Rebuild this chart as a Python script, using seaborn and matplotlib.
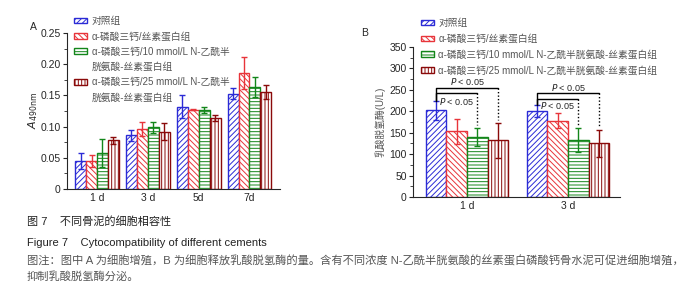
import numpy as np
import pandas as pd
import seaborn as sns
import matplotlib.pyplot as plt
from matplotlib.patches import Patch

# groups and styles
groups = ['对照组', 'α-磷酸三钙/丝素蛋白组',
          'α-磷酸三钙/10 mmol/L N-乙酰半胱氨酸-丝素蛋白组',
          'α-磷酸三钙/25 mmol/L N-乙酰半胱氨酸-丝素蛋白组']
# panel A legend wraps the long names onto a second line
legend_a = ['对照组', 'α-磷酸三钙/丝素蛋白组',
            'α-磷酸三钙/10 mmol/L N-乙酰半', '胱氨酸-丝素蛋白组',
            'α-磷酸三钙/25 mmol/L N-乙酰半', '胱氨酸-丝素蛋白组']
legend_a_group = [0, 1, 2, None, 3, None]
colors = ['#2b2bd6', '#e8343a', '#13861a', '#8a0a0a']
hatches = ['//////', '\\\\\\\\\\\\', '-----', '|||||']

# panel A: cell proliferation
days_a = ['1 d', '3 d', '5d', '7d']
a_mean = [[0.045, 0.086, 0.132, 0.153],
          [0.045, 0.096, 0.127, 0.186],
          [0.058, 0.099, 0.126, 0.164],
          [0.078, 0.092, 0.114, 0.156]]
a_sd = [[0.013, 0.009, 0.019, 0.009],
        [0.010, 0.011, 0.001, 0.025],
        [0.022, 0.009, 0.005, 0.016],
        [0.006, 0.013, 0.005, 0.011]]

# panel B: LDH release
days_b = ['1 d', '3 d']
b_mean = [[202, 200], [153, 178], [139, 132], [132, 125]]
b_sd = [[22, 14], [30, 17], [21, 28], [40, 31]]

sns.set_style('ticks')
plt.rcParams['font.family'] = ['Liberation Sans', 'Noto Sans CJK SC', 'DejaVu Sans']
plt.rcParams['hatch.linewidth'] = 0.7


def make_df(days, means):
    rows = []
    for g, vals in zip(groups, means):
        for d, v in zip(days, vals):
            rows.append({'day': d, 'group': g, 'val': v})
    return pd.DataFrame(rows)


def draw_bars(ax, days, means, sds, width):
    df = make_df(days, means)
    sns.barplot(data=df, x='day', y='val', hue='group', hue_order=groups,
                order=days, errorbar=None, width=width, gap=0,
                palette=['white'] * 4, ax=ax, legend=False)
    bar_conts = list(ax.containers)
    for i, cont in enumerate(bar_conts):
        for bar in cont:
            bar.set_hatch(hatches[i])
            bar.set_edgecolor(colors[i])
            bar.set_linewidth(1.0)
        xs = [b.get_x() + b.get_width() / 2 for b in cont]
        hs = [b.get_height() for b in cont]
        ax.errorbar(xs, hs, yerr=sds[i], fmt='none', ecolor=colors[i],
                    elinewidth=1, capsize=2.5, capthick=1)
    sns.despine(ax=ax)
    ax.set_xlabel('')
    ax.tick_params(axis='x', length=0, labelsize=7.5, pad=3)
    ax.tick_params(axis='y', labelsize=7.5, length=3, width=0.8, pad=1.5)
    ax.tick_params(axis='y', which='minor', length=2, width=0.6)
    for s in ax.spines.values():
        s.set_linewidth(0.8)
    return bar_conts


def add_legend(fig, labels, idx, x, y, spacing):
    handles = []
    for i in idx:
        if i is None:
            handles.append(Patch(facecolor='none', edgecolor='none'))
        else:
            handles.append(Patch(facecolor='white', edgecolor=colors[i],
                                 hatch=hatches[i], linewidth=1))
    return fig.legend(handles, labels, loc='upper left',
                      bbox_to_anchor=(x / 700, 1 - y / 295), frameon=False,
                      fontsize=7, handlelength=1.3, handleheight=0.5,
                      handletextpad=0.5, labelspacing=spacing,
                      labelcolor='#555555', borderaxespad=0, borderpad=0)


fig = plt.figure(figsize=(7, 2.95), dpi=100)

# panel A
axA = fig.add_axes([67 / 700, 1 - 189 / 295, 213 / 700, 156 / 295])
draw_bars(axA, days_a, a_mean, a_sd, 0.86)
axA.set_xlim(-0.59, 3.6)
axA.set_ylim(0, 0.25)
axA.set_yticks([0, 0.05, 0.10, 0.15, 0.20, 0.25])
axA.set_yticklabels(['0', '0.05', '0.10', '0.15', '0.20', '0.25'])
axA.set_yticks(np.arange(0.025, 0.25, 0.05), minor=True)
axA.set_ylabel(r'$A_{490\mathrm{nm}}$', fontsize=8, labelpad=0)
fig.text(30 / 700, 1 - 27 / 295, 'A', fontsize=7.5, va='center')
add_legend(fig, legend_a, legend_a_group, 74, 16, 0.55)

# panel B
axB = fig.add_axes([413 / 700, 1 - 197 / 295, 207 / 700, 150 / 295])
conts_b = draw_bars(axB, days_b, b_mean, b_sd, 0.82)
axB.set_xlim(-0.535, 1.515)
axB.set_ylim(0, 350)
axB.set_yticks(np.arange(0, 351, 50))
axB.set_yticks(np.arange(25, 350, 50), minor=True)
axB.set_ylabel('乳酸脱氢酶(U/L)', fontsize=7, color='#555555', labelpad=3)
fig.text(361 / 700, 1 - 33 / 295, 'B', fontsize=7.5, va='center')
add_legend(fig, groups, [0, 1, 2, 3], 421, 18, 0.6)

# significance brackets
centers = [[b.get_x() + b.get_width() / 2 for b in cont] for cont in conts_b]
brackets = [  # (day index, target group, line y, text y, left foot)
    (0, 3, 255, 270, 225), (0, 2, 242, 222, 225),
    (1, 3, 242, 256, 214), (1, 2, 229, 214, 214)]
for d, g, ly, ty, lf in brackets:
    x0 = centers[0][d]
    x1 = centers[g][d]
    top = b_mean[g][d] + b_sd[g][d]
    axB.plot([x0, x0, x1], [lf, ly, ly], color='black', lw=1)
    axB.plot([x1, x1], [ly, top + 8], color='black', lw=1, ls=(0, (1, 1.5)))
    axB.text((x0 + x1) / 2, ty, r'$\it{P}$ < 0.05', fontsize=6.5,
             ha='center', va='center')

# caption
fig.text(27 / 700, 1 - 222 / 295, '图 7    不同骨泥的细胞相容性', fontsize=8,
         va='center', color='#222222')
fig.text(27 / 700, 1 - 243 / 295, 'Figure 7    Cytocompatibility of different cements',
         fontsize=8, va='center', color='#222222')
fig.text(27 / 700, 1 - 261 / 295,
         '图注：图中 A 为细胞增殖，B 为细胞释放乳酸脱氢酶的量。含有不同浓度 N-乙酰半胱氨酸的丝素蛋白磷酸钙骨水泥可促进细胞增殖，',
         fontsize=8.1, va='center', color='#555555')
fig.text(27 / 700, 1 - 276 / 295, '抑制乳酸脱氢酶分泌。',
         fontsize=8.1, va='center', color='#555555')

fig.savefig('out.png', dpi=100)
